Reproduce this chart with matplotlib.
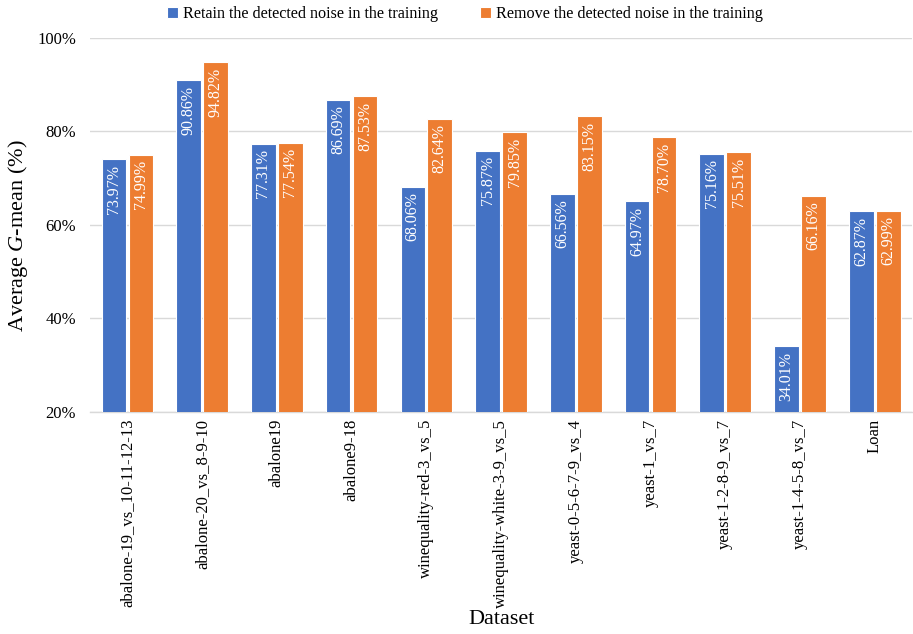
import matplotlib
matplotlib.use("Agg")
import matplotlib.pyplot as plt
import numpy as np
from matplotlib.ticker import FuncFormatter

categories = ["abalone-19_vs_10-11-12-13", "abalone-20_vs_8-9-10", "abalone19",
              "abalone9-18", "winequality-red-3_vs_5", "winequality-white-3-9_vs_5",
              "yeast-0-5-6-7-9_vs_4", "yeast-1_vs_7", "yeast-1-2-8-9_vs_7",
              "yeast-1-4-5-8_vs_7", "Loan"]
retain = [73.97, 90.86, 77.31, 86.69, 68.06, 75.87, 66.56, 64.97, 75.16, 34.01, 62.87]
remove = [74.99, 94.82, 77.54, 87.53, 82.64, 79.85, 83.15, 78.70, 75.51, 66.16, 62.99]
series_names = ["Retain the detected noise in the training",
                "Remove the detected noise in the training"]
yticks = [20, 40, 60, 80, 100]

plt.rcParams['font.family'] = ['Liberation Serif', 'DejaVu Serif']
plt.rcParams['mathtext.fontset'] = 'custom'
plt.rcParams['mathtext.it'] = 'Liberation Serif:italic'
plt.rcParams['mathtext.rm'] = 'Liberation Serif'

fig = plt.figure(figsize=(9.13, 6.34), dpi=100)
ax = fig.add_axes([0.0986, 0.3506, 0.9004, 0.5899])

blue = "#4472C4"
orange = "#ED7D31"
x = np.arange(len(categories))
w = 0.33
off = 0.18
b1 = ax.bar(x - off, retain, w, bottom=0, color=blue, edgecolor="white", linewidth=0.8,
            label=series_names[0], zorder=3)
b2 = ax.bar(x + off, remove, w, bottom=0, color=orange, edgecolor="white", linewidth=0.8,
            label=series_names[1], zorder=3)

for xs, vals in ((x - off, retain), (x + off, remove)):
    for xi, v in zip(xs, vals):
        ax.annotate(f"{v:.2f}%", xy=(xi, v), xytext=(0, -4), textcoords="offset points",
                    rotation=90, ha="center", va="top", color="white", fontsize=11.5, zorder=4)

ax.set_ylim(20, 100)
ax.set_xlim(-0.5, len(categories) - 0.5)
ax.set_yticks(yticks)
ax.yaxis.set_major_formatter(FuncFormatter(lambda v, p: f"{v:.0f}%"))
ax.set_xticks(x)
ax.set_xticklabels(categories, rotation=90, fontsize=12)
ax.tick_params(axis="y", labelsize=12, length=0, pad=10)
ax.tick_params(axis="x", length=0, pad=5)
ax.grid(axis="y", color="#D9D9D9", linewidth=1, zorder=0)
for s in ["top", "right", "left"]:
    ax.spines[s].set_visible(False)
ax.spines["bottom"].set_color("#D9D9D9")
ax.spines["bottom"].set_linewidth(1)

fig.text(18 / 913, 1 - 236 / 634, "Average $G$-mean (%)", rotation=90,
         ha="center", va="center", fontsize=16)
fig.text(502 / 913, 1 - 620 / 634, "Dataset", ha="center", va="center", fontsize=16)

fig.legend(handles=[b1, b2], loc="center", bbox_to_anchor=(465 / 913, 1 - 14 / 634), ncol=2,
           frameon=False, fontsize=11.6, handlelength=0.7, handleheight=0.7,
           handletextpad=0.3, columnspacing=2.6, borderaxespad=0, borderpad=0)

fig.savefig("out.png", dpi=100)
